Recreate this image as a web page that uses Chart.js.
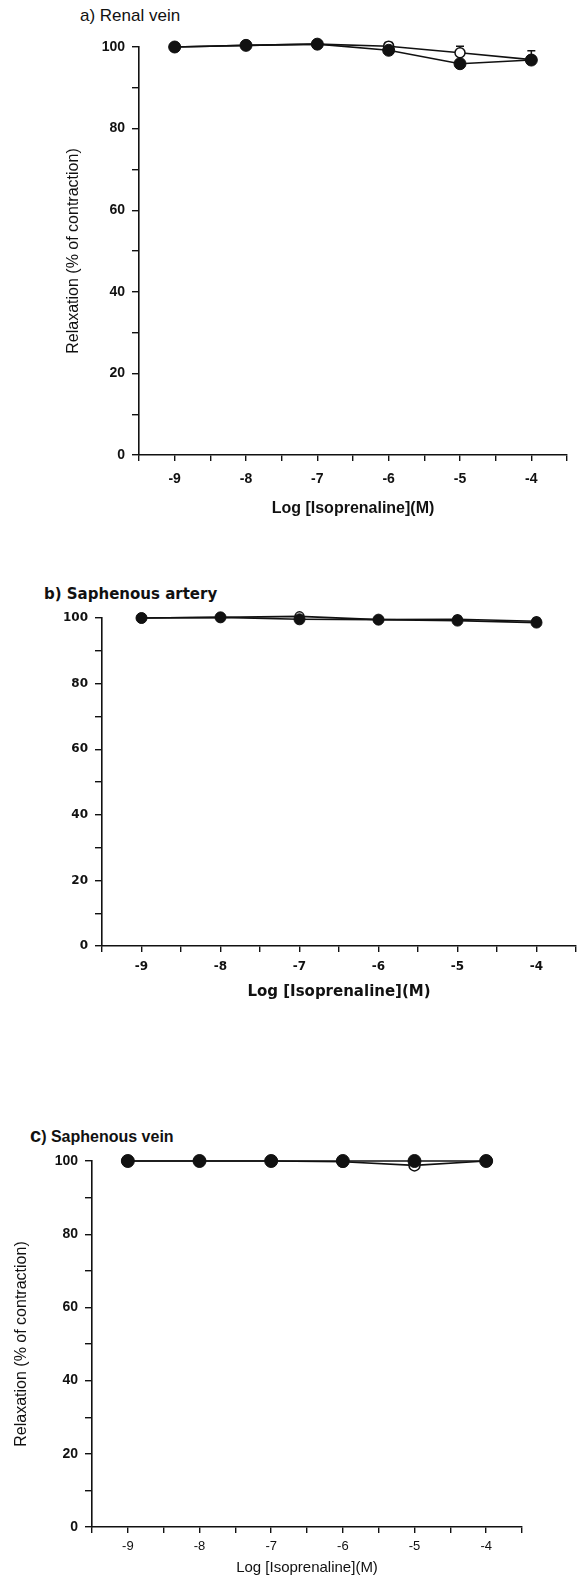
<!DOCTYPE html>
<html>
<head>
<meta charset="utf-8">
<script src="https://cdn.jsdelivr.net/npm/chart.js@4.4.0/dist/chart.umd.min.js"></script>
<style>
  html, body { margin: 0; padding: 0; background: #fff; }
  .page { position: relative; width: 584px; height: 1577px; overflow: hidden; }
  .panel { position: absolute; left: 0; width: 584px; }
  .ttl { position: absolute; white-space: nowrap; color: #111; line-height: 1; }
</style>
</head>
<body>
<div class="page">
  <div class="ttl" style="left:80px;top:6px;font:17px 'Liberation Sans',Arial,sans-serif;">a) Renal vein</div>
  <div class="panel" style="top:0;height:538px;"><canvas class="jsRenalVein"></canvas></div>

  <div class="ttl" style="left:44px;top:585px;font:bold 15px 'DejaVu Sans',Verdana,sans-serif;">b) Saphenous artery</div>
  <div class="panel" style="top:560px;height:446px;"><canvas class="jsSaphArtery"></canvas></div>

  <div class="ttl" style="left:30px;top:1124px;font:bold 16px 'Liberation Sans',Arial,sans-serif;"><span style="font-size:20px;">c</span>) Saphenous vein</div>
  <div class="panel" style="top:1100px;height:477px;"><canvas class="jsSaphVein"></canvas></div>
</div>

<script>
'use strict';

// log [isoprenaline] (M)
let doses = [-9, -8, -7, -6, -5, -4];

// a) renal vein
let renalFilled = [100, 100.4, 100.7, 99.2, 95.9, 96.8];
let renalOpen = [100, 100.4, 100.7, 100.2, 98.6, 96.9];
let renalOpenSem = [0, 0, 0, 0.9, 1.6, 2.2];

// b) saphenous artery
let arteryFilled = [100, 100.2, 99.6, 99.5, 99.2, 98.6];
let arteryOpen = [100, 100.2, 100.5, 99.5, 99.6, 99.0];
let arteryOpenSem = [0, 0, 0.4, 0, 0.6, 0.5];

// c) saphenous vein
let veinFilled = [100, 100, 100, 100, 100, 100];
let veinOpen = [100, 100, 100, 99.8, 98.8, 100];
let veinOpenSem = [0, 0, 0, 0, 0, 0];

let yTitle = 'Relaxation (% of contraction)',
  xTitle = 'Log [Isoprenaline](M)';

// upper error bars, drawn before the markers so the circles sit on top
const errorBars = {
  id: 'errorBars',
  beforeDatasetsDraw(chart) {
    let ctx = chart.ctx,
      xs = chart.scales.x,
      ys = chart.scales.y;
    ctx.save();
    ctx.strokeStyle = '#111';
    ctx.lineWidth = 1.5;
    chart.data.datasets.forEach(function (ds) {
      if (!ds.sem) return;
      ds.data.forEach(function (p, i) {
        let s = ds.sem[i];
        if (!s) return;
        let x = xs.getPixelForValue(p.x),
          y0 = ys.getPixelForValue(p.y),
          y1 = ys.getPixelForValue(p.y + s);
        ctx.beginPath();
        ctx.moveTo(x, y0);
        ctx.lineTo(x, y1);
        ctx.moveTo(x - 4, y1);
        ctx.lineTo(x + 4, y1);
        ctx.stroke();
      });
    });
    ctx.restore();
  }
};

function toPoints(values) {
  return doses.map(function (d, i) { return {x: d, y: values[i]}; });
}

function _buildPanel(sel, cfg) {
  let ctx = document.querySelector(sel);

  new Chart(ctx, {
    type: 'line',
    data: {
      datasets: [{
        data: toPoints(cfg.filled),
        borderColor: '#111',
        borderWidth: 1.6,
        pointRadius: cfg.radius,
        pointBackgroundColor: '#111',
        pointBorderColor: '#111',
        pointBorderWidth: 1,
        clip: false,
        order: 0
      }, {
        data: toPoints(cfg.open),
        sem: cfg.sem,
        borderColor: '#111',
        borderWidth: 1.6,
        pointRadius: cfg.radius - 1,
        pointBackgroundColor: '#fff',
        pointBorderColor: '#111',
        pointBorderWidth: 1.5,
        clip: false,
        order: 1
      }]
    },
    options: {
      responsive: true,
      maintainAspectRatio: false,
      animation: false,
      events: [],
      layout: {padding: cfg.padding},
      plugins: {
        legend: {display: false},
        tooltip: {enabled: false},
        title: {display: false}
      },
      scales: {
        x: {
          type: 'linear',
          min: -9.5,
          max: -3.5,
          afterFit: function (scale) { scale.height = cfg.xHeight; },
          border: {color: '#111', width: 1.6},
          grid: {drawOnChartArea: false, drawTicks: true, tickLength: 6, color: '#111', lineWidth: 1.4},
          ticks: {
            stepSize: 0.5,
            autoSkip: false,
            maxRotation: 0,
            padding: cfg.xTickPad,
            color: '#111',
            font: cfg.xTickFont,
            callback: function (v) { return Number.isInteger(v) ? String(v) : ''; }
          },
          title: {
            display: true,
            text: xTitle,
            color: '#111',
            font: cfg.xTitleFont,
            padding: {top: 0, bottom: cfg.xTitlePad}
          }
        },
        y: {
          min: 0,
          max: 100,
          afterFit: function (scale) { scale.width = cfg.yWidth; },
          border: {color: '#111', width: 1.6},
          grid: {drawOnChartArea: false, drawTicks: true, tickLength: 7, color: '#111', lineWidth: 1.4},
          ticks: {
            stepSize: 10,
            padding: 7,
            color: '#111',
            font: cfg.yTickFont,
            callback: function (v) { return v % 20 === 0 ? String(v) : ''; }
          },
          title: {
            display: cfg.yTitle,
            text: yTitle,
            color: '#111',
            font: {family: "'Liberation Sans Narrow', 'Liberation Sans', Arial, sans-serif", size: 16},
            padding: {top: cfg.yTitlePad, bottom: 0}
          }
        }
      }
    },
    plugins: [errorBars]
  });
}

function buildCharts() {
  _buildPanel('.jsRenalVein', {
    filled: renalFilled, open: renalOpen, sem: renalOpenSem, radius: 6,
    padding: {left: 0, right: 17, top: 47, bottom: 0},
    yWidth: 139, xHeight: 83, xTickPad: 10, xTitlePad: 20,
    yTitle: true, yTitlePad: 64,
    xTickFont: {family: "'Liberation Sans', Arial, sans-serif", size: 14, weight: 'bold'},
    yTickFont: {family: "'Liberation Sans', Arial, sans-serif", size: 14, weight: 'bold'},
    xTitleFont: {family: "'Liberation Sans', Arial, sans-serif", size: 16, weight: 'bold'}
  });
  _buildPanel('.jsSaphArtery', {
    filled: arteryFilled, open: arteryOpen, sem: arteryOpenSem, radius: 5.5,
    padding: {left: 0, right: 4, top: 58, bottom: 0},
    yWidth: 102, xHeight: 60, xTickPad: 8, xTitlePad: 5,
    yTitle: false, yTitlePad: 0,
    xTickFont: {family: "'DejaVu Sans', Verdana, sans-serif", size: 12, weight: 'bold'},
    yTickFont: {family: "'DejaVu Sans', Verdana, sans-serif", size: 12, weight: 'bold'},
    xTitleFont: {family: "'DejaVu Sans', Verdana, sans-serif", size: 15, weight: 'bold'}
  });
  _buildPanel('.jsSaphVein', {
    filled: veinFilled, open: veinOpen, sem: veinOpenSem, radius: 6.5,
    padding: {left: 0, right: 62, top: 61, bottom: 0},
    yWidth: 92, xHeight: 50, xTickPad: 6, xTitlePad: 0,
    yTitle: true, yTitlePad: 12,
    xTickFont: {family: "'Liberation Sans', Arial, sans-serif", size: 13},
    yTickFont: {family: "'Liberation Sans', Arial, sans-serif", size: 14, weight: 'bold'},
    xTitleFont: {family: "'Liberation Sans', Arial, sans-serif", size: 15}
  });
}

buildCharts();
</script>
</body>
</html>
